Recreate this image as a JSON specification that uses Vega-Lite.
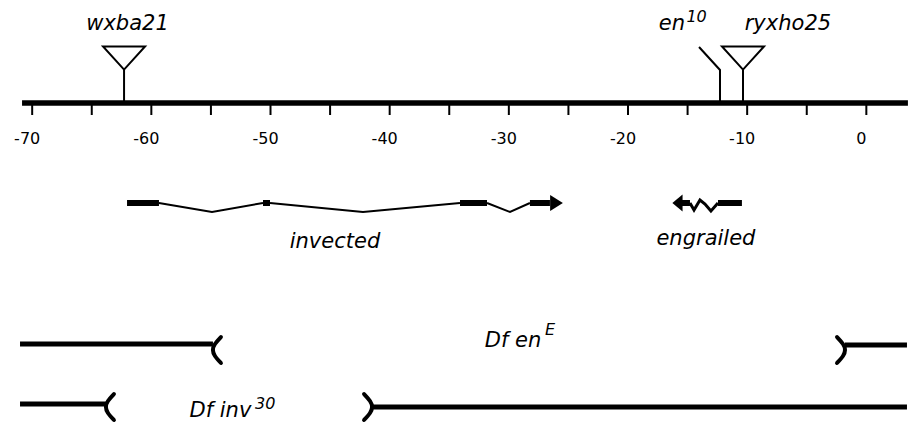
{
  "$schema": "https://vega.github.io/schema/vega-lite/v6.json",
  "width": 914,
  "height": 428,
  "autosize": {"type": "fit", "contains": "padding"},
  "padding": 0,
  "background": "white",
  "config": {"view": {"stroke": null}, "font": "DejaVu Sans"},
  "datasets": {
    "axisline": [{"from": -70.85, "to": 3.49}],
    "ticks": [{"pos": -70}, {"pos": -65}, {"pos": -60}, {"pos": -55}, {"pos": -50}, {"pos": -45}, {"pos": -40}, {"pos": -35}, {"pos": -30}, {"pos": -25}, {"pos": -20}, {"pos": -15}, {"pos": -10}, {"pos": -5}, {"pos": 0}],
    "ticklabels": [{"pos": -70, "label": "-70"}, {"pos": -60, "label": "-60"}, {"pos": -50, "label": "-50"}, {"pos": -40, "label": "-40"}, {"pos": -30, "label": "-30"}, {"pos": -20, "label": "-20"}, {"pos": -10, "label": "-10"}, {"pos": 0, "label": "0"}],
    "stems": [
      {"allele": "wxba21", "pos": -62.29, "row": 70, "o": 0},
      {"allele": "wxba21", "pos": -62.29, "row": 101, "o": 1},
      {"allele": "ryxho25", "pos": -10.35, "row": 70, "o": 0},
      {"allele": "ryxho25", "pos": -10.35, "row": 101, "o": 1},
      {"allele": "en10", "pos": -14.04, "row": 47, "o": 0},
      {"allele": "en10", "pos": -12.28, "row": 70, "o": 1},
      {"allele": "en10", "pos": -12.28, "row": 101, "o": 2}
    ],
    "insertions": [{"allele": "wxba21", "pos": -62.29}, {"allele": "ryxho25", "pos": -10.35}],
    "exons": [
      {"gene": "invected", "start": -62.04, "end": -59.36},
      {"gene": "invected", "start": -50.63, "end": -50.04},
      {"gene": "invected", "start": -34.10, "end": -31.83},
      {"gene": "invected", "start": -28.23, "end": -26.55},
      {"gene": "engrailed", "start": -15.47, "end": -14.80},
      {"gene": "engrailed", "start": -12.45, "end": -10.44}
    ],
    "introns": [
      {"seg": "inv1", "pos": -59.36, "row": 203, "o": 0},
      {"seg": "inv1", "pos": -54.91, "row": 212, "o": 1},
      {"seg": "inv1", "pos": -50.63, "row": 203, "o": 2},
      {"seg": "inv2", "pos": -50.04, "row": 203, "o": 0},
      {"seg": "inv2", "pos": -42.24, "row": 212, "o": 1},
      {"seg": "inv2", "pos": -34.10, "row": 203, "o": 2},
      {"seg": "inv3", "pos": -31.83, "row": 203, "o": 0},
      {"seg": "inv3", "pos": -29.90, "row": 212, "o": 1},
      {"seg": "inv3", "pos": -28.23, "row": 203, "o": 2}
    ],
    "zigzag": [
      {"seg": "en1", "pos": -14.80, "row": 203, "o": 0},
      {"seg": "en1", "pos": -14.46, "row": 210, "o": 1},
      {"seg": "en1", "pos": -13.96, "row": 200, "o": 2},
      {"seg": "en1", "pos": -13.54, "row": 204, "o": 3},
      {"seg": "en1", "pos": -13.04, "row": 211, "o": 4},
      {"seg": "en1", "pos": -12.45, "row": 203, "o": 5}
    ],
    "arrows": [{"gene": "invected", "dir": "right", "pos": -26.0}, {"gene": "engrailed", "dir": "left", "pos": -15.85}],
    "dflines": [
      {"df": "Df enE", "side": "left", "from": -71.02, "to": -54.83, "row": 344},
      {"df": "Df enE", "side": "right", "from": -1.79, "to": 3.41, "row": 345},
      {"df": "Df inv30", "side": "left", "from": -71.02, "to": -63.81, "row": 404},
      {"df": "Df inv30", "side": "right", "from": -41.48, "to": 3.41, "row": 407}
    ],
    "brackets": [
      {"b": "enE-left", "pos": -54.16, "row": 337, "o": 0},
      {"b": "enE-left", "pos": -54.66, "row": 344, "o": 1},
      {"b": "enE-left", "pos": -54.83, "row": 350, "o": 2},
      {"b": "enE-left", "pos": -54.66, "row": 356, "o": 3},
      {"b": "enE-left", "pos": -54.16, "row": 363, "o": 4},
      {"b": "enE-right", "pos": -2.46, "row": 337, "o": 0},
      {"b": "enE-right", "pos": -1.96, "row": 344, "o": 1},
      {"b": "enE-right", "pos": -1.79, "row": 350, "o": 2},
      {"b": "enE-right", "pos": -1.96, "row": 356, "o": 3},
      {"b": "enE-right", "pos": -2.46, "row": 363, "o": 4},
      {"b": "inv30-left", "pos": -63.14, "row": 394, "o": 0},
      {"b": "inv30-left", "pos": -63.64, "row": 401, "o": 1},
      {"b": "inv30-left", "pos": -63.81, "row": 407, "o": 2},
      {"b": "inv30-left", "pos": -63.64, "row": 413, "o": 3},
      {"b": "inv30-left", "pos": -63.14, "row": 420, "o": 4},
      {"b": "inv30-right", "pos": -42.15, "row": 394, "o": 0},
      {"b": "inv30-right", "pos": -41.65, "row": 401, "o": 1},
      {"b": "inv30-right", "pos": -41.48, "row": 407, "o": 2},
      {"b": "inv30-right", "pos": -41.65, "row": 413, "o": 3},
      {"b": "inv30-right", "pos": -42.15, "row": 420, "o": 4}
    ],
    "labels": [
      {"text": "wxba21", "pos": -62.0, "row": 30},
      {"text": "en", "pos": -16.31, "row": 30},
      {"text": "ryxho25", "pos": -6.58, "row": 30},
      {"text": "invected", "pos": -44.59, "row": 248},
      {"text": "engrailed", "pos": -13.46, "row": 245},
      {"text": "Df en", "pos": -29.65, "row": 347},
      {"text": "Df inv", "pos": -54.20, "row": 417}
    ],
    "sups": [
      {"text": "10", "pos": -15.10, "row": 22},
      {"text": "E", "pos": -26.97, "row": 335},
      {"text": "30", "pos": -51.30, "row": 409}
    ]
  },
  "layer": [
    {
      "data": {"name": "axisline"},
      "mark": {"type": "rule", "strokeWidth": 5.5, "color": "black"},
      "encoding": {
        "x": {"field": "from", "type": "quantitative", "scale": {"domain": [-72.7, 4.0], "nice": false, "zero": false}, "axis": null},
        "x2": {"field": "to"},
        "y": {"datum": 103, "type": "quantitative", "scale": {"domain": [0, 428], "reverse": true, "nice": false, "zero": false}, "axis": null}
      }
    },
    {
      "data": {"name": "ticks"},
      "mark": {"type": "rule", "strokeWidth": 2, "color": "black"},
      "encoding": {
        "x": {"field": "pos", "type": "quantitative", "scale": {"domain": [-72.7, 4.0], "nice": false, "zero": false}, "axis": null},
        "y": {"datum": 105, "type": "quantitative", "scale": {"domain": [0, 428], "reverse": true, "nice": false, "zero": false}, "axis": null},
        "y2": {"datum": 115}
      }
    },
    {
      "data": {"name": "ticklabels"},
      "mark": {"type": "text", "fontSize": 16, "align": "center", "baseline": "middle", "dx": -5, "color": "black"},
      "encoding": {
        "x": {"field": "pos", "type": "quantitative", "scale": {"domain": [-72.7, 4.0], "nice": false, "zero": false}, "axis": null},
        "y": {"datum": 139, "type": "quantitative", "scale": {"domain": [0, 428], "reverse": true, "nice": false, "zero": false}, "axis": null},
        "text": {"field": "label"}
      }
    },
    {
      "data": {"name": "stems"},
      "mark": {"type": "line", "strokeWidth": 2, "color": "black", "strokeJoin": "miter"},
      "encoding": {
        "x": {"field": "pos", "type": "quantitative", "scale": {"domain": [-72.7, 4.0], "nice": false, "zero": false}, "axis": null},
        "y": {"field": "row", "type": "quantitative", "scale": {"domain": [0, 428], "reverse": true, "nice": false, "zero": false}, "axis": null},
        "detail": {"field": "allele"},
        "order": {"field": "o", "type": "quantitative"}
      }
    },
    {
      "data": {"name": "insertions"},
      "mark": {"type": "point", "shape": "M-1,-0.55L1,-0.55L0,0.55Z", "size": 1764, "filled": false, "fill": "white", "fillOpacity": 1, "stroke": "black", "strokeWidth": 2, "opacity": 1},
      "encoding": {
        "x": {"field": "pos", "type": "quantitative", "scale": {"domain": [-72.7, 4.0], "nice": false, "zero": false}, "axis": null},
        "y": {"datum": 58, "type": "quantitative", "scale": {"domain": [0, 428], "reverse": true, "nice": false, "zero": false}, "axis": null}
      }
    },
    {
      "data": {"name": "introns"},
      "mark": {"type": "line", "strokeWidth": 2, "color": "black"},
      "encoding": {
        "x": {"field": "pos", "type": "quantitative", "scale": {"domain": [-72.7, 4.0], "nice": false, "zero": false}, "axis": null},
        "y": {"field": "row", "type": "quantitative", "scale": {"domain": [0, 428], "reverse": true, "nice": false, "zero": false}, "axis": null},
        "detail": {"field": "seg"},
        "order": {"field": "o", "type": "quantitative"}
      }
    },
    {
      "data": {"name": "zigzag"},
      "mark": {"type": "line", "strokeWidth": 3, "color": "black"},
      "encoding": {
        "x": {"field": "pos", "type": "quantitative", "scale": {"domain": [-72.7, 4.0], "nice": false, "zero": false}, "axis": null},
        "y": {"field": "row", "type": "quantitative", "scale": {"domain": [0, 428], "reverse": true, "nice": false, "zero": false}, "axis": null},
        "detail": {"field": "seg"},
        "order": {"field": "o", "type": "quantitative"}
      }
    },
    {
      "data": {"name": "exons"},
      "mark": {"type": "rule", "strokeWidth": 6, "color": "black"},
      "encoding": {
        "x": {"field": "start", "type": "quantitative", "scale": {"domain": [-72.7, 4.0], "nice": false, "zero": false}, "axis": null},
        "x2": {"field": "end"},
        "y": {"datum": 203, "type": "quantitative", "scale": {"domain": [0, 428], "reverse": true, "nice": false, "zero": false}, "axis": null}
      }
    },
    {
      "data": {"name": "arrows"},
      "mark": {"type": "point", "filled": true, "color": "black", "opacity": 1, "size": 289},
      "encoding": {
        "x": {"field": "pos", "type": "quantitative", "scale": {"domain": [-72.7, 4.0], "nice": false, "zero": false}, "axis": null},
        "y": {"datum": 203, "type": "quantitative", "scale": {"domain": [0, 428], "reverse": true, "nice": false, "zero": false}, "axis": null},
        "shape": {"field": "dir", "type": "nominal", "scale": {"domain": ["right", "left"], "range": ["M-0.75,-0.95L0.75,0L-0.75,0.95Z", "M0.6,-1L-0.6,0L0.6,1Z"]}, "legend": null}
      }
    },
    {
      "data": {"name": "dflines"},
      "mark": {"type": "rule", "strokeWidth": 5, "color": "black"},
      "encoding": {
        "x": {"field": "from", "type": "quantitative", "scale": {"domain": [-72.7, 4.0], "nice": false, "zero": false}, "axis": null},
        "x2": {"field": "to"},
        "y": {"field": "row", "type": "quantitative", "scale": {"domain": [0, 428], "reverse": true, "nice": false, "zero": false}, "axis": null}
      }
    },
    {
      "data": {"name": "brackets"},
      "mark": {"type": "line", "strokeWidth": 4, "color": "black", "interpolate": "natural", "strokeCap": "round"},
      "encoding": {
        "x": {"field": "pos", "type": "quantitative", "scale": {"domain": [-72.7, 4.0], "nice": false, "zero": false}, "axis": null},
        "y": {"field": "row", "type": "quantitative", "scale": {"domain": [0, 428], "reverse": true, "nice": false, "zero": false}, "axis": null},
        "detail": {"field": "b"},
        "order": {"field": "o", "type": "quantitative"}
      }
    },
    {
      "data": {"name": "labels"},
      "mark": {"type": "text", "fontSize": 21, "fontStyle": "italic", "align": "center", "baseline": "alphabetic", "color": "black"},
      "encoding": {
        "x": {"field": "pos", "type": "quantitative", "scale": {"domain": [-72.7, 4.0], "nice": false, "zero": false}, "axis": null},
        "y": {"field": "row", "type": "quantitative", "scale": {"domain": [0, 428], "reverse": true, "nice": false, "zero": false}, "axis": null},
        "text": {"field": "text"}
      }
    },
    {
      "data": {"name": "sups"},
      "mark": {"type": "text", "fontSize": 16, "fontStyle": "italic", "align": "left", "baseline": "alphabetic", "color": "black"},
      "encoding": {
        "x": {"field": "pos", "type": "quantitative", "scale": {"domain": [-72.7, 4.0], "nice": false, "zero": false}, "axis": null},
        "y": {"field": "row", "type": "quantitative", "scale": {"domain": [0, 428], "reverse": true, "nice": false, "zero": false}, "axis": null},
        "text": {"field": "text"}
      }
    }
  ]
}
